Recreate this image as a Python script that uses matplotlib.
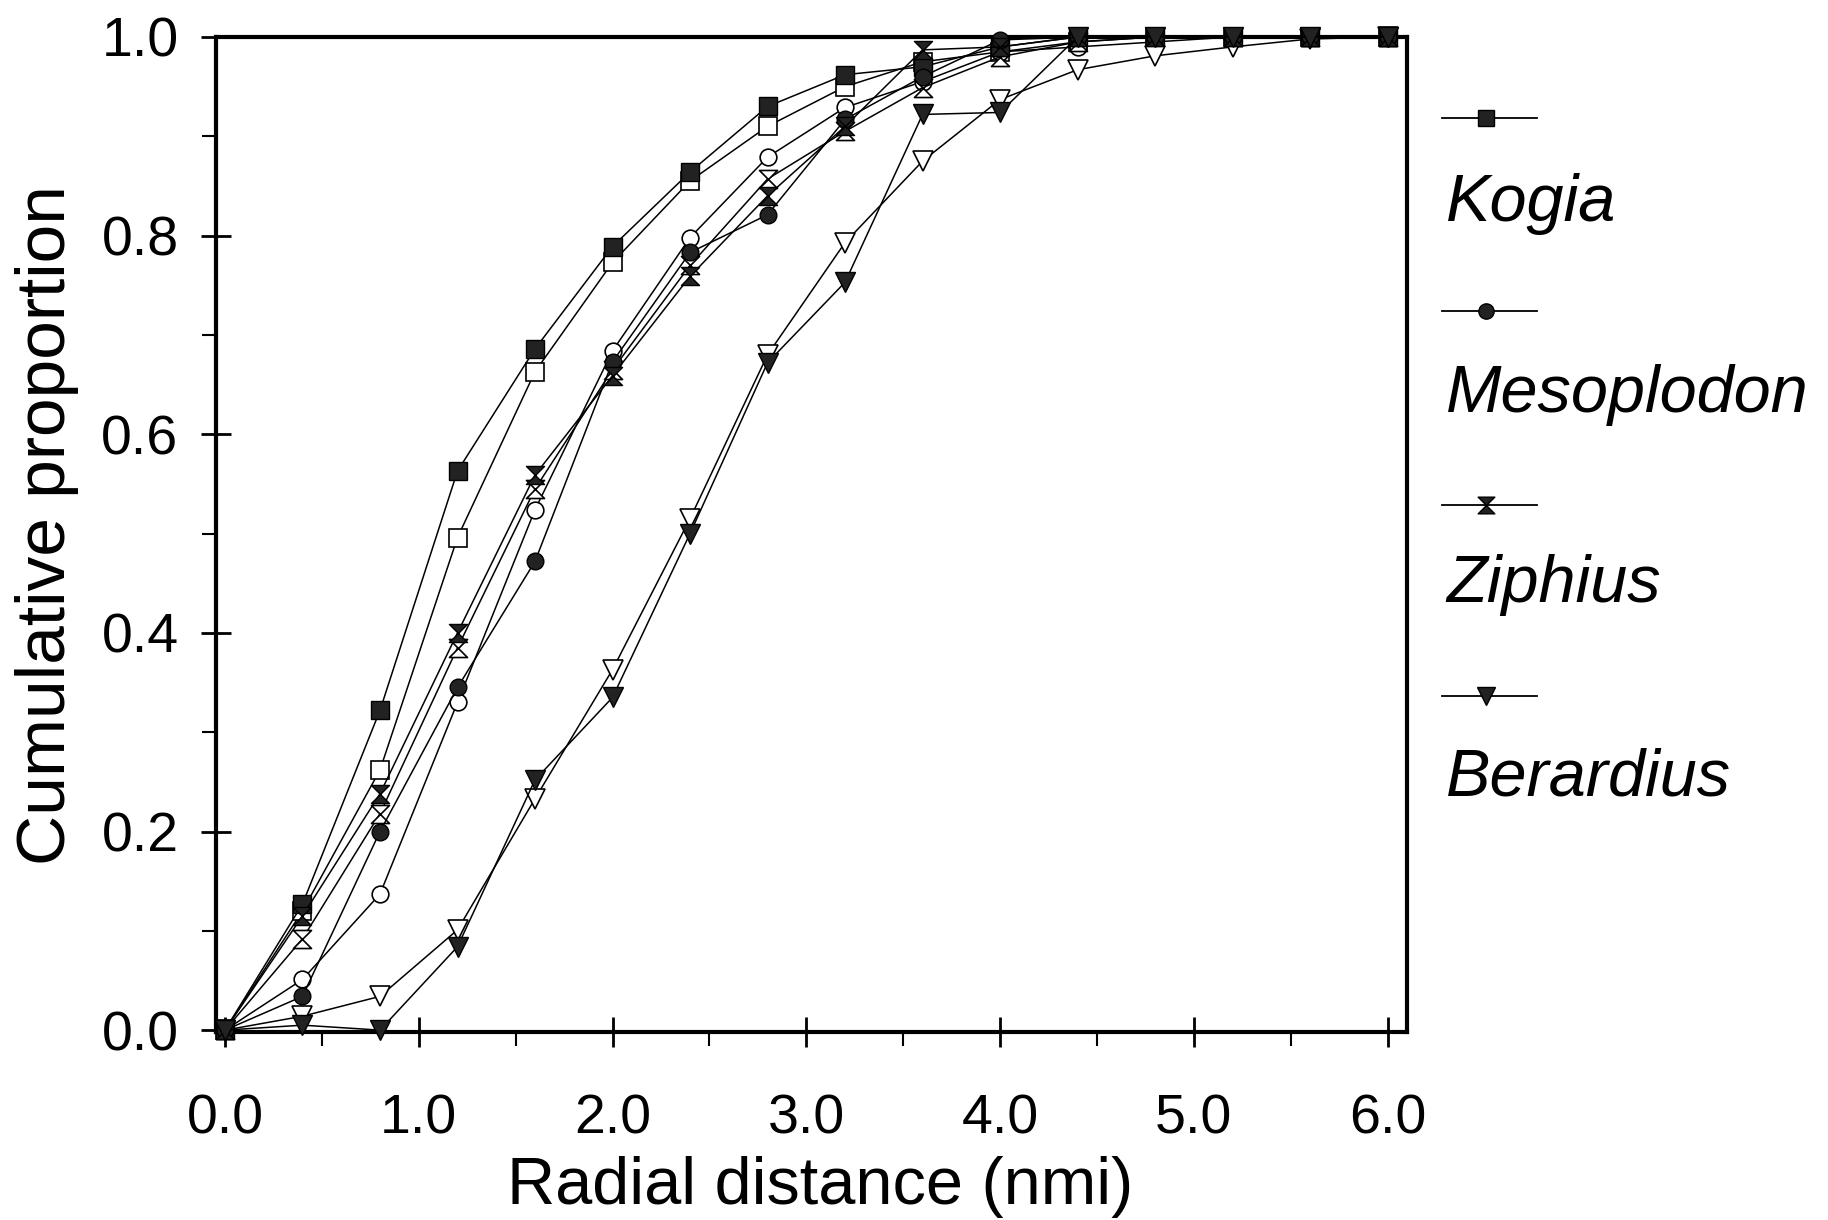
# cumulative proportion of sightings vs radial distance, 4 beaked/pygmy whale genera
import numpy as np
import matplotlib
matplotlib.use('Agg')
import matplotlib.pyplot as plt
from matplotlib.path import Path
from matplotlib.lines import Line2D

plt.rcParams['font.family'] = ['Liberation Sans', 'DejaVu Sans']

dist = [0.0, 0.4, 0.8, 1.2, 1.6, 2.0, 2.4, 2.8, 3.2, 3.6, 4.0, 4.4, 4.8, 5.2, 5.6, 6.0]

# filled symbols
kogia = [0, 0.127, 0.322, 0.563, 0.686, 0.789, 0.864, 0.930, 0.962, 0.970, 0.990, 1.0, 1.0, 1.0, 1.0, 1.0]
mesoplodon = [0, 0.034, 0.200, 0.345, 0.472, 0.673, 0.783, 0.821, 0.917, 0.960, 0.997, 1.0, 1.0, 1.0, 1.0, 1.0]
ziphius = [0, 0.115, 0.238, 0.400, 0.559, 0.659, 0.759, 0.840, 0.910, 0.987, 0.990, 1.0, 1.0, 1.0, 1.0, 1.0]
berardius = [0, 0.005, 0.0, 0.084, 0.252, 0.335, 0.500, 0.672, 0.753, 0.922, 0.924, 1.0, 1.0, 1.0, 1.0, 1.0]

# open symbols
kogia_o = [0, 0.120, 0.262, 0.496, 0.663, 0.773, 0.855, 0.910, 0.950, 0.975, 0.985, 0.995, 1.0, 1.0, 1.0, 1.0]
mesoplodon_o = [0, 0.051, 0.137, 0.330, 0.524, 0.684, 0.798, 0.879, 0.929, 0.955, 0.985, 0.990, 0.995, 1.0, 1.0, 1.0]
ziphius_o = [0, 0.092, 0.218, 0.385, 0.545, 0.665, 0.770, 0.857, 0.905, 0.949, 0.980, 0.995, 1.0, 1.0, 1.0, 1.0]
berardius_o = [0, 0.014, 0.034, 0.101, 0.233, 0.363, 0.515, 0.680, 0.793, 0.875, 0.937, 0.967, 0.981, 0.990, 0.998, 1.0]

names = ['Kogia', 'Mesoplodon', 'Ziphius', 'Berardius']

# hourglass marker (two triangles meeting at the centre)
hg = Path([(-1, 1), (1, 1), (0, 0), (-1, 1), (-1, -1), (1, -1), (0, 0), (-1, -1)],
          [Path.MOVETO, Path.LINETO, Path.LINETO, Path.CLOSEPOLY,
           Path.MOVETO, Path.LINETO, Path.LINETO, Path.CLOSEPOLY])
markers = ['s', 'o', hg, 'v']
msize = [13, 12, 13, 14]

fig = plt.figure(figsize=(18.28, 12.20), dpi=100)
ax = fig.add_axes([0.1182, 0.154, 0.6515, 0.8157])

filled = [kogia, mesoplodon, ziphius, berardius]
opened = [kogia_o, mesoplodon_o, ziphius_o, berardius_o]
for i in range(4):
    ax.plot(dist, opened[i], color='black', lw=1.1, marker=markers[i], ms=msize[i],
            mfc='white', mec='black', mew=1.2, clip_on=False, zorder=3)
for i in range(4):
    ax.plot(dist, filled[i], color='black', lw=1.1, marker=markers[i], ms=msize[i],
            mfc='#222222', mec='black', mew=1.0, clip_on=False, zorder=4)

ax.set_xlim(-0.046, 6.10)
ax.set_ylim(-0.002, 1.0)
ax.set_xticks([0, 1, 2, 3, 4, 5, 6])
ax.set_xticklabels(['0.0', '1.0', '2.0', '3.0', '4.0', '5.0', '6.0'])
ax.set_xticks([0.5, 1.5, 2.5, 3.5, 4.5, 5.5], minor=True)
ax.set_yticks([0, 0.2, 0.4, 0.6, 0.8, 1.0])
ax.set_yticklabels(['0.0', '0.2', '0.4', '0.6', '0.8', '1.0'])
ax.set_yticks([0.1, 0.3, 0.5, 0.7, 0.9], minor=True)

ax.tick_params(which='major', direction='inout', length=22, width=2, labelsize=40, colors='black')
ax.tick_params(which='minor', direction='out', length=10, width=1.5)
ax.tick_params(axis='x', which='major', pad=33)
ax.tick_params(axis='y', which='major', pad=16)
for s in ax.spines.values():
    s.set_linewidth(3)

ax.set_xlabel('Radial distance (nmi)', fontsize=48)
ax.xaxis.set_label_coords(0.507, -0.156)
ax.xaxis.label.set_va('center')
ax.set_ylabel('Cumulative proportion', fontsize=50)
ax.yaxis.set_label_coords(-0.142, 0.51)
ax.yaxis.label.set_va('center')

# legend: symbol on a short line, italic name underneath
W, H = 1828.0, 1220.0
handle_y = [118, 311, 505, 696]
text_y = [204, 395, 585, 779]
for i in range(4):
    yy = 1 - handle_y[i] / H
    fig.add_artist(Line2D([1442 / W, 1537 / W], [yy, yy], color='black', lw=1.3,
                          transform=fig.transFigure))
    fig.add_artist(Line2D([1486 / W], [yy], marker=markers[i], ms=msize[i] - 1,
                          mfc='#222222', mec='black', color='black',
                          transform=fig.transFigure))
    fig.text(1446 / W, 1 - text_y[i] / H, names[i], style='italic', fontsize=48,
             ha='left', va='center')

fig.savefig('out.png', dpi=100)
